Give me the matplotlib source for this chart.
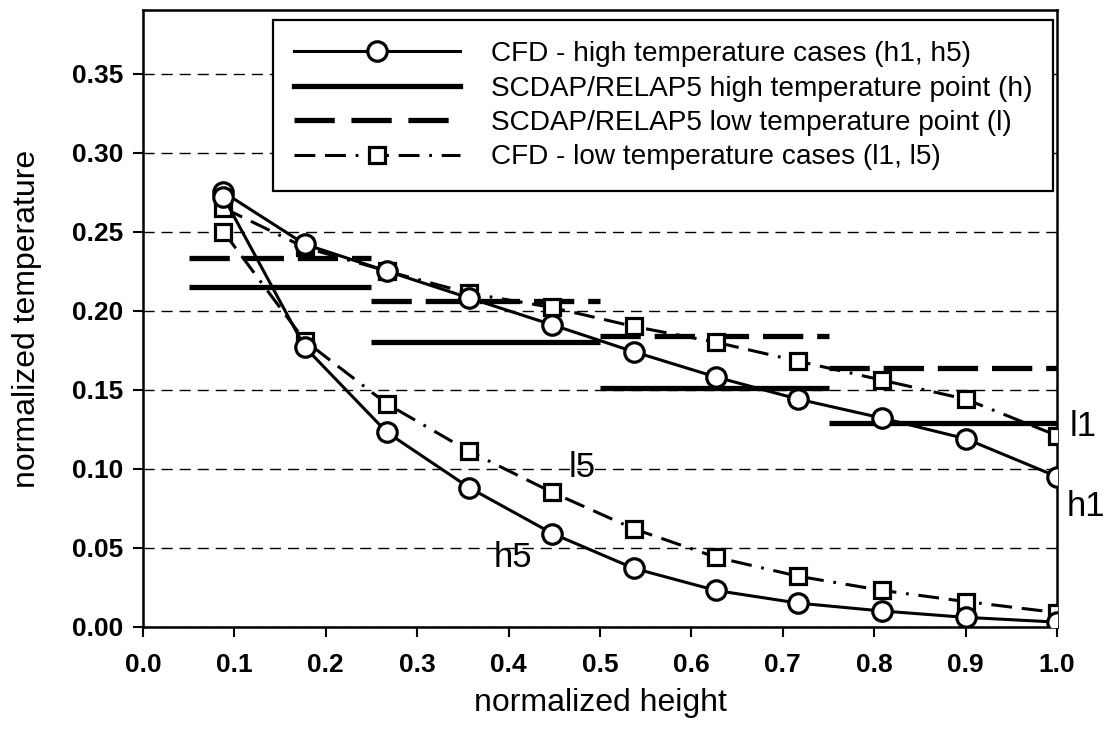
#!/usr/bin/env python3
"""
Axial temperature profiles: CFD cases vs SCDAP/RELAP5 nodal values.
"""

import matplotlib
matplotlib.use("Agg")
import matplotlib.pyplot as plt
from matplotlib import font_manager
from matplotlib.lines import Line2D


# ============================================================================
# Data
# ============================================================================

height = [0.088, 0.177, 0.267, 0.357, 0.448, 0.537, 0.627, 0.717, 0.809, 0.900, 1.000]

cfd_h1 = [0.275, 0.242, 0.225, 0.208, 0.191, 0.174, 0.158, 0.144, 0.132, 0.119, 0.095]
cfd_h5 = [0.272, 0.177, 0.123, 0.088, 0.059, 0.037, 0.023, 0.015, 0.010, 0.006, 0.003]
cfd_l1 = [0.265, 0.240, 0.225, 0.211, 0.202, 0.190, 0.180, 0.168, 0.156, 0.144, 0.121]
cfd_l5 = [0.250, 0.181, 0.141, 0.111, 0.085, 0.062, 0.044, 0.032, 0.023, 0.016, 0.009]

# SCDAP/RELAP5 node boundaries and node-averaged values
node_start = [0.05, 0.25, 0.50, 0.75]
node_end = [0.25, 0.50, 0.75, 1.00]
relap_high = [0.215, 0.180, 0.151, 0.129]
relap_low = [0.233, 0.206, 0.184, 0.164]

labels = [
    "CFD - high temperature cases (h1, h5)",
    "SCDAP/RELAP5 high temperature point (h)",
    "SCDAP/RELAP5 low temperature point (l)",
    "CFD - low temperature cases (l1, l5)",
]

x_ticks = [0.0, 0.1, 0.2, 0.3, 0.4, 0.5, 0.6, 0.7, 0.8, 0.9, 1.0]
y_ticks = [0.00, 0.05, 0.10, 0.15, 0.20, 0.25, 0.30, 0.35]


# ============================================================================
# Plot
# ============================================================================

def main():
    installed = {f.name for f in font_manager.fontManager.ttflist}
    family = "Liberation Sans" if "Liberation Sans" in installed else "DejaVu Sans"
    plt.rcParams["font.family"] = [family, "DejaVu Sans"]
    plt.rcParams["lines.scale_dashes"] = False

    fig = plt.figure(figsize=(11.08, 7.34), dpi=100)
    ax = fig.add_axes([0.129, 0.146, 0.825, 0.840])

    low_dash = (0, (29, 10))
    cfd_low_dash = (0, (15, 7, 15, 7, 2, 7))

    # SCDAP/RELAP5 node values as horizontal bars
    ax.hlines(relap_high, node_start, node_end, colors="black", linewidth=3.8, zorder=2)
    ax.hlines(relap_low, node_start, node_end, colors="black", linewidth=3.8,
              linestyles=[low_dash], zorder=2)

    circle = dict(marker="o", markersize=14, markerfacecolor="white",
                  markeredgecolor="black", markeredgewidth=2.3)
    square = dict(marker="s", markersize=11, markerfacecolor="white",
                  markeredgecolor="black", markeredgewidth=2.3)

    ax.plot(height, cfd_l1, color="black", linewidth=2.2, linestyle=cfd_low_dash, zorder=3, **square)
    ax.plot(height, cfd_l5, color="black", linewidth=2.2, linestyle=cfd_low_dash, zorder=3, **square)
    ax.plot(height, cfd_h1, color="black", linewidth=2.2, zorder=4, **circle)
    ax.plot(height, cfd_h5, color="black", linewidth=2.2, zorder=4, **circle)

    # Case labels
    ax.text(0.481, 0.101, "l5", fontsize=25, ha="center", va="center")
    ax.text(0.405, 0.044, "h5", fontsize=25, ha="center", va="center")
    ax.text(1.010, 0.076, "h1", fontsize=25, ha="left", va="center")
    ax.text(1.014, 0.127, "l1", fontsize=25, ha="left", va="center")

    ax.set_xlim(0.0, 1.0)
    ax.set_ylim(0.0, 0.39)
    ax.set_xticks(x_ticks)
    ax.set_yticks(y_ticks)
    ax.set_xticklabels([f"{v:.1f}" for v in x_ticks], fontsize=19, fontweight="bold")
    ax.set_yticklabels([f"{v:.2f}" for v in y_ticks], fontsize=19, fontweight="bold")
    ax.tick_params(axis="both", direction="out", width=1.5)
    ax.tick_params(axis="x", length=7, pad=12)
    ax.tick_params(axis="y", length=7, pad=7)

    ax.yaxis.grid(True, color="black", linewidth=1.0, linestyle=(0, (8, 5)))
    ax.set_axisbelow(True)
    for spine in ax.spines.values():
        spine.set_linewidth(1.8)

    ax.set_xlabel("normalized height", fontsize=23, labelpad=8)
    ax.set_ylabel("normalized temperature", fontsize=23, labelpad=22)

    handles = [
        Line2D([], [], color="black", linewidth=2.2, **circle),
        Line2D([], [], color="black", linewidth=3.8),
        Line2D([], [], color="black", linewidth=3.8, linestyle=(0, (29, 12))),
        Line2D([], [], color="black", linewidth=2.2, linestyle=cfd_low_dash, **square),
    ]
    leg = ax.legend(handles, labels, loc="upper right", bbox_to_anchor=(0.996, 0.984),
                    borderaxespad=0, fontsize=20.2, handlelength=5.9, handletextpad=1.1,
                    labelspacing=0.3, borderpad=0.75, fancybox=False, framealpha=1,
                    edgecolor="black", numpoints=1)
    leg.get_frame().set_linewidth(1.6)

    plt.savefig("out.png", dpi=100)


if __name__ == "__main__":
    main()
